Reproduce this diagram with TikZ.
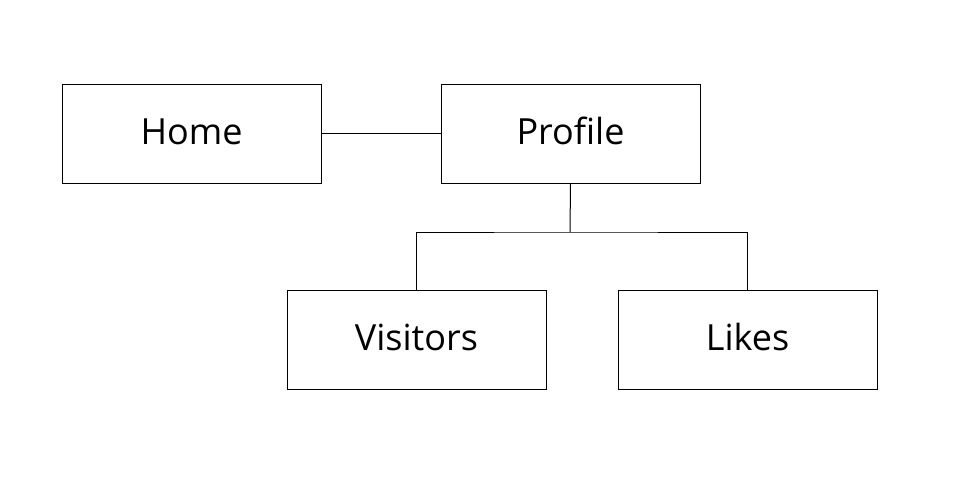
\documentclass[tikz,border=0pt]{standalone}
\usepackage{fontspec}
\setmainfont{Open Sans}
\begin{document}
\begin{tikzpicture}[x=1pt,y=-1pt,
  pagebox/.style={draw=black, line width=1pt, minimum width=259pt, minimum height=99pt, inner sep=0pt, font=\fontsize{36}{40}\selectfont, anchor=north west, text height=22pt, text depth=0pt},
  link/.style={draw=black, line width=1pt}]
\useasboundingbox (0,0) rectangle (966,483);
\node[pagebox] (home) at (61.5,83.5) {Home};
\node[pagebox] (profile) at (440.5,83.5) {Profile};
\node[pagebox] (visitors) at (286.5,289.5) {Visitors};
\node[pagebox] (likes) at (617.5,289.5) {Likes};
\coordinate (split) at (570,232);
\draw[link] (home.east) -- (profile.west);
\draw[link] (profile.south) -- (split);
\draw[link] (visitors.north) |- (split) -| (likes.north);
\end{tikzpicture}
\end{document}
